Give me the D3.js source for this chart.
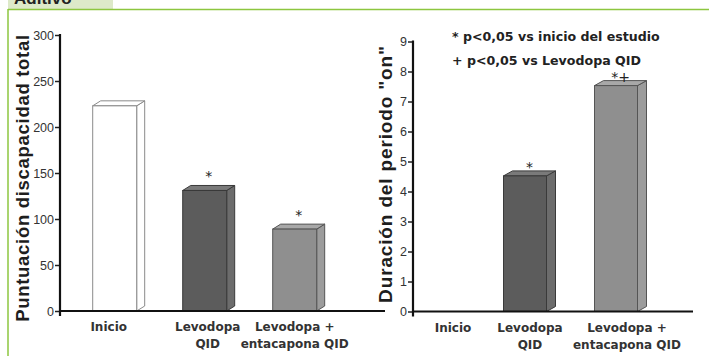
<!DOCTYPE html>
<html>
<head>
<meta charset="utf-8">
<script src="https://cdn.jsdelivr.net/npm/d3@7"></script>
<style>
  body { margin: 0; background: #fff; }
</style>
</head>
<body>
<div id="chart"></div>
<script>
// Data
const categories = ["Inicio", "Levodopa QID", "Levodopa + entacapona QID"];
const categoryLines = [["Inicio"], ["Levodopa", "QID"], ["Levodopa +", "entacapona QID"]];
const disabilityScore = [223, 131, 89];
const onDuration = [0, 4.52, 7.53];
const disabilityTicks = [0, 50, 100, 150, 200, 250, 300];
const onTicks = [0, 1, 2, 3, 4, 5, 6, 7, 8, 9];
const disabilityMarks = ["", "*", "*"];
const onMarks = ["", "*", "*+"];
const legendLines = ["* p<0,05 vs inicio del estudio", "+ p<0,05 vs Levodopa QID"];

const width = 709, height = 356;

const svg = d3.select("#chart").append("svg")
  .attr("width", width)
  .attr("height", height)
  .attr("font-family", "'Liberation Sans', Arial, sans-serif");

svg.append("rect").attr("width", width).attr("height", height).attr("fill", "#fff");

// header tab + green frame
svg.append("rect").attr("x", 8).attr("y", 0).attr("width", 105).attr("height", 9).attr("fill", "#dde9c9");
svg.append("text").attr("x", 14).attr("y", 4)
  .attr("font-size", 17).attr("font-weight", "bold").attr("fill", "#222")
  .text("Aditivo");
svg.append("line").attr("x1", 8).attr("x2", width).attr("y1", 9.5).attr("y2", 9.5)
  .attr("stroke", "#8dc63f").attr("stroke-width", 1.5);
svg.append("line").attr("x1", 8).attr("x2", 8).attr("y1", 9).attr("y2", height)
  .attr("stroke", "#8dc63f").attr("stroke-width", 1.5);

const fills = [
  { front: "#ffffff", side: "#ffffff", top: "#ffffff", stroke: "#8a8a8a" },
  { front: "#5c5c5c", side: "#6c6c6c", top: "#7a7a7a", stroke: "#3a3a3a" },
  { front: "#8f8f8f", side: "#9c9c9c", top: "#a8a8a8", stroke: "#555" }
];

function drawPanel(opt) {
  const g = svg.append("g");
  const y = d3.scaleLinear().domain(opt.domain).range([opt.y0, opt.y1]);
  const x = d3.scalePoint().domain(categories).range(opt.xRange).padding(0.5);
  const bw = opt.barWidth, dx = opt.dx, dy = opt.dy;

  // bars (3D look)
  categories.forEach((c, i) => {
    const v = opt.values[i];
    if (!v) return;
    const x0 = x(c) - bw / 2, x1 = x(c) + bw / 2;
    const yt = y(v), yb = y(0);
    const f = fills[i];
    g.append("polygon")
      .attr("points", [[x1, yt], [x1 + dx, yt - dy], [x1 + dx, yb - dy], [x1, yb]].join(" "))
      .attr("fill", f.side).attr("stroke", f.stroke).attr("stroke-width", 1);
    g.append("polygon")
      .attr("points", [[x0, yt], [x0 + dx, yt - dy], [x1 + dx, yt - dy], [x1, yt]].join(" "))
      .attr("fill", f.top).attr("stroke", f.stroke).attr("stroke-width", 1);
    g.append("rect")
      .attr("x", x0).attr("y", yt).attr("width", bw).attr("height", yb - yt)
      .attr("fill", f.front).attr("stroke", f.stroke).attr("stroke-width", 1);
    g.append("text")
      .attr("x", x(c) + dx / 2).attr("y", yt - dy + 2 - opt.markGap)
      .attr("text-anchor", "middle").attr("font-size", 14).attr("fill", "#222")
      .attr("font-family", "'DejaVu Sans', sans-serif")
      .text(opt.marks[i]);
  });

  // y axis
  const yAxis = d3.axisLeft(y).tickValues(opt.ticks).tickSize(5).tickSizeOuter(0).tickPadding(1);
  const ya = g.append("g").attr("transform", `translate(${opt.axisX},0)`).call(yAxis);
  ya.select(".domain").remove();
  ya.selectAll(".tick line").attr("stroke", "#222").attr("stroke-width", 1.5);
  ya.attr("font-size", 12.5).attr("font-family", "'Liberation Sans Narrow', 'Liberation Sans', sans-serif");
  ya.selectAll(".tick text").attr("fill", "#333");
  g.append("line").attr("x1", opt.axisX).attr("x2", opt.axisX)
    .attr("y1", y(opt.domain[1]) - 1).attr("y2", y(0) + 5)
    .attr("stroke", "#111").attr("stroke-width", 2.2);

  // x axis
  g.append("line").attr("x1", opt.axisX).attr("x2", opt.xEnd)
    .attr("y1", y(0)).attr("y2", y(0))
    .attr("stroke", "#111").attr("stroke-width", 2.2);

  // category labels
  categories.forEach((c, i) => {
    const t = g.append("text")
      .attr("x", x(c) + opt.labelShift[i]).attr("y", y(0) + 20)
      .attr("text-anchor", "middle").attr("font-size", 12).attr("font-weight", "bold")
      .attr("font-family", "'DejaVu Sans', sans-serif")
      .attr("fill", "#333");
    categoryLines[i].forEach((line, k) => {
      t.append("tspan").attr("x", x(c) + opt.labelShift[i]).attr("dy", k ? 17 : 0).text(line);
    });
  });

  // axis title
  g.append("text")
    .attr("transform", `translate(${opt.titleX},${opt.titleY}) rotate(-90)`)
    .attr("text-anchor", "middle").attr("font-size", opt.titleSize).attr("font-weight", "bold")
    .attr("letter-spacing", opt.titleSpacing)
    .attr("fill", "#1e1e1e")
    .text(opt.title);
}

drawPanel({
  values: disabilityScore, marks: disabilityMarks, ticks: disabilityTicks,
  domain: [0, 300], y0: 311, y1: 35,
  xRange: [69.7, 339.7], barWidth: 44, dx: 8, dy: 5, markGap: 6,
  axisX: 60, xEnd: 385, labelShift: [-6, 3, 0],
  title: "Puntuación discapacidad total", titleX: 29, titleY: 178, titleSize: 18.5, titleSpacing: 0.7
});

drawPanel({
  values: onDuration, marks: onMarks, ticks: onTicks,
  domain: [0, 9], y0: 311.5, y1: 41.5,
  xRange: [388.5, 661.5], barWidth: 43, dx: 9, dy: 5, markGap: 1,
  axisX: 413, xEnd: 693, labelShift: [19, 5, 11],
  title: "Duración del periodo \"on\"", titleX: 392, titleY: 174, titleSize: 19, titleSpacing: 0.85
});

// legend
legendLines.forEach((line, i) => {
  svg.append("text")
    .attr("x", 452).attr("y", 41 + i * 24)
    .attr("font-size", 12.6).attr("font-weight", "bold").attr("fill", "#222")
    .attr("font-family", "'DejaVu Sans', sans-serif")
    .text(line);
});
</script>
</body>
</html>
